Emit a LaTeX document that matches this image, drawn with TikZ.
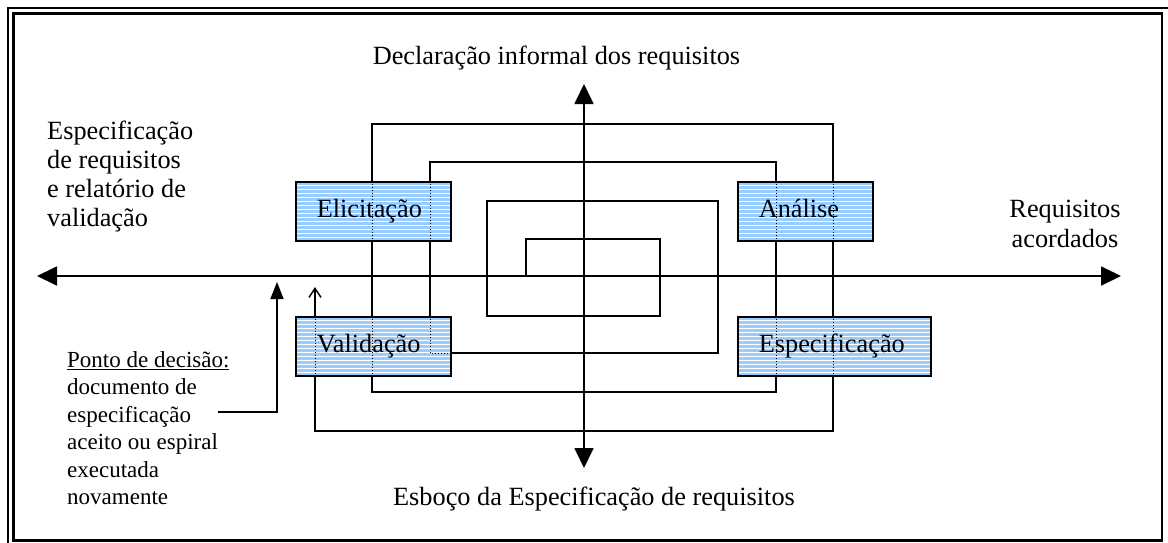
\documentclass[tikz,border=0pt]{standalone}
\usepackage{fontspec}
\setmainfont{Liberation Serif}
\usetikzlibrary{arrows.meta}
\definecolor{boxblue}{RGB}{153,204,255}
\begin{document}
\begin{tikzpicture}[x=1pt,y=-1pt,
  spiral/.style={line width=1.5pt},
  axis/.style={line width=1.8pt,{Triangle[length=20pt,width=19pt]}-{Triangle[length=20pt,width=19pt]}},
  dotline/.style={black,line width=1pt,dash pattern=on 1pt off 2pt},
  stage/.style={draw=black,line width=1.6pt,fill=boxblue,anchor=north west,
    minimum height=59pt,inner ysep=0pt,inner xsep=21pt,align=left,
    font=\fontsize{26.3}{29}\selectfont,text height=18pt,text depth=6pt,
    path picture={\foreach \k in {1,...,14}{
      \draw[white,line width=1pt] ([yshift=-\k*4pt]path picture bounding box.north west) -- ([yshift=-\k*4pt]path picture bounding box.north east);}}},
  lbl/.style={inner sep=0pt,font=\fontsize{26.3}{29}\selectfont},
  note/.style={inner sep=0pt,align=left,font=\fontsize{23}{27.5}\selectfont}
]
\useasboundingbox (0,0) rectangle (1168,542);
% frame
\draw[line width=2.8pt] (8,8) rectangle (1169,547);
\draw[line width=2.4pt] (13.5,13.5) rectangle (1162,540.5);

% axes
\coordinate (W) at (37,276);
\coordinate (E) at (1121,276);
\coordinate (N) at (584,84);
\coordinate (S) at (584,468);
\draw[axis] (W) -- (E);
\draw[axis] (N) -- (S);

% spiral
\coordinate (c0) at (526,277);
\coordinate (c1) at (660,239);
\coordinate (c2) at (487,316);
\coordinate (c3) at (718,201);
\coordinate (c4) at (430,353);
\coordinate (c5) at (776,162);
\coordinate (c6) at (372,392);
\coordinate (c7) at (833,124);
\coordinate (c8) at (315,431);
\coordinate (c9) at (315,287);
\draw[spiral,-{Straight Barb[length=9pt,width=12pt]}] (c0) |- (c1) |- (c2) |- (c3) |- (c4) |- (c5) |- (c6) |- (c7) |- (c8) -- (c9);

% stages
\node[stage,text width=113pt] (eli) at (295,181) {Elicitação};
\node[stage,text width=93pt] (ana) at (737,181) {Análise};
\node[stage,text width=113pt] (val) at (295,316) {Validação};
\node[stage,text width=151pt] (esp) at (737,316) {Especificação};

% spiral seen through the boxes
\draw[dotline] (372,181) -- (372,240);
\draw[dotline] (430,181) -- (430,240);
\draw[dotline] (776,181) -- (776,240);
\draw[dotline] (833,181) -- (833,240);
\draw[dotline] (315,316) -- (315,374);
\draw[dotline] (372,316) -- (372,374);
\draw[dotline] (430,316) -- (430,353) -- (450,353);
\draw[dotline] (776,316) -- (776,374);
\draw[dotline] (833,316) -- (833,374);

% labels
\node[lbl,anchor=base] (top) at (556.5,64) {Declaração informal dos requisitos};
\node[lbl,anchor=base] (bot) at (594,505) {Esboço da Especificação de requisitos};
\node[lbl,anchor=north west,align=left] (lft) at (47,121) {Especificação\\de requisitos\\e relatório de\\validação};
\node[lbl,anchor=north,align=center,font=\fontsize{26.3}{30}\selectfont] (rgt) at (1065,200) {Requisitos\\acordados};
\node[note,anchor=north west] (dec) at (67,351) {\underline{Ponto de decisão:}\\documento de\\especificação\\aceito ou espiral\\executada\\novamente};

% decision arrow
\coordinate (d0) at (218,412);
\coordinate (d1) at (277,282);
\draw[spiral,-{Triangle[length=17pt,width=13pt]}] (d0) -| (d1);
\end{tikzpicture}
\end{document}
